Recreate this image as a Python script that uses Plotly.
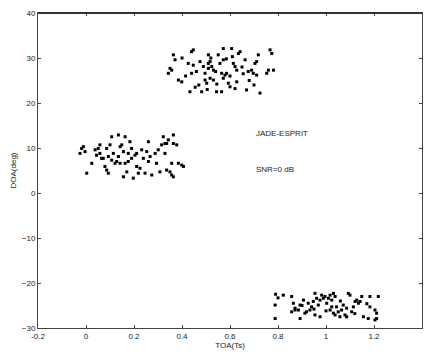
import plotly.graph_objects as go

# Cluster 1 (top)
x1 = [0.364,0.371,0.350,0.343,0.357,0.385,0.399,0.433,0.440,0.447,0.426,0.447,0.440,0.475,0.482,
      0.489,0.496,0.496,0.503,0.510,0.510,0.517,0.524,0.510,0.531,0.517,0.531,0.544,0.551,0.558,
      0.565,0.572,0.572,0.572,0.565,0.579,0.586,0.593,0.600,0.607,0.614,0.621,0.628,0.635,0.642,
      0.628,0.621,0.663,0.669,0.676,0.690,0.697,0.704,0.711,0.718,0.711,0.725,0.760,0.767,0.774,
      0.781,0.753,0.400,0.415,0.460,0.470,0.520,0.540,0.585,0.600,0.650,0.680,0.455,0.505,0.545,
      0.610,0.655,0.700]
y1 = [30.7,29.6,27.7,26.6,27.3,25.1,24.7,22.5,31.4,31.8,28.8,28.4,26.6,29.2,22.5,
      28.1,26.6,25.1,24.4,30.7,28.8,29.2,28.1,27.7,27.3,25.5,25.1,22.5,30.7,28.8,
      26.6,32.1,29.6,25.5,22.5,26.2,26.6,24.4,23.6,32.1,28.8,28.1,27.3,31.0,31.4,
      24.7,23.2,29.6,22.9,27.0,27.3,26.6,28.8,29.2,30.7,26.2,22.2,27.3,31.8,31.0,
      27.3,26.6,30.0,26.0,27.0,24.0,30.0,27.0,29.8,26.0,28.0,25.0,23.5,23.0,24.2,
      30.3,26.5,24.0]

# Cluster 2 (left)
x2 = [-0.025,-0.018,-0.011,-0.004,0.003,0.024,0.038,0.044,0.051,0.058,0.058,0.065,0.072,0.079,0.086,
      0.086,0.093,0.093,0.100,0.107,0.107,0.114,0.121,0.128,0.135,0.135,0.142,0.149,0.142,0.156,
      0.156,0.163,0.163,0.170,0.176,0.176,0.183,0.190,0.190,0.197,0.204,0.211,0.211,0.218,0.225,
      0.232,0.239,0.246,0.253,0.260,0.260,0.267,0.274,0.288,0.294,0.301,0.308,0.315,0.322,0.329,
      0.329,0.336,0.336,0.343,0.350,0.357,0.364,0.364,0.378,0.385,0.357,0.364,0.399,0.406]
y2 = [8.8,9.9,10.3,9.2,4.4,6.6,9.6,8.4,9.9,8.8,10.7,7.7,7.7,5.9,5.1,
      9.9,4.4,8.1,10.7,7.3,12.5,8.8,6.6,7.0,8.1,12.9,10.3,10.7,6.6,9.2,
      3.6,12.5,6.6,4.7,8.8,7.0,11.4,9.9,7.7,3.3,8.4,8.8,5.9,4.4,5.5,
      9.6,7.7,4.4,9.2,11.4,7.0,8.1,4.0,8.8,6.6,9.6,4.7,10.7,12.5,8.8,
      11.0,11.0,5.1,11.8,4.7,6.6,12.9,11.0,10.7,6.6,4.0,3.6,6.2,5.9]

# Cluster 3 (bottom right)
x3 = [0.822,0.857,0.864,0.871,0.857,0.885,0.892,0.906,0.919,0.912,0.926,0.933,0.940,0.947,0.954,
      0.961,0.968,0.975,0.982,0.989,0.996,1.003,1.010,1.017,1.024,1.031,1.038,1.017,1.024,1.031,
      1.044,1.051,1.058,1.065,1.072,1.079,1.086,1.093,1.100,1.107,1.114,1.121,1.128,1.135,1.142,
      1.149,1.156,1.183,1.183,1.204,1.211,1.218,1.176,1.204,1.211,0.788,0.788,0.790,0.800,0.871,
      0.892,0.954,1.086,1.038,0.975,0.900,0.950,1.000,1.060,1.120,1.170]
y3 = [-22.7,-23.0,-24.5,-25.6,-26.4,-26.0,-24.9,-23.8,-26.4,-26.7,-24.5,-26.0,-25.3,-24.1,-22.3,
      -23.4,-24.9,-23.8,-22.7,-23.4,-23.0,-24.5,-23.4,-22.7,-23.8,-22.3,-23.0,-26.0,-25.3,-26.7,
      -25.3,-26.4,-27.5,-26.0,-24.9,-27.1,-25.6,-22.3,-22.7,-26.4,-25.3,-24.1,-23.8,-24.5,-24.1,
      -23.0,-27.5,-23.0,-25.3,-26.0,-26.7,-23.0,-27.9,-28.2,-27.9,-24.9,-27.9,-22.5,-23.3,-26.0,
      -27.9,-27.1,-27.5,-27.1,-27.5,-25.0,-25.8,-26.2,-24.0,-26.8,-24.6]

x_ticks = [-0.2, 0, 0.2, 0.4, 0.6, 0.8, 1, 1.2, 1.4]
x_labels = ["-0.2", "0", "0.2", "0.4", "0.6", "0.8", "1", "1.2", "1.4"]
y_ticks = [-30, -20, -10, 0, 10, 20, 30, 40]

fig = go.Figure()
for xs, ys in [(x1, y1), (x2, y2), (x3, y3)]:
    fig.add_trace(go.Scatter(x=xs, y=ys, mode="markers",
                             marker=dict(symbol="square", size=3, color="black"),
                             showlegend=False, hoverinfo="skip"))

font = dict(family="Liberation Sans, Arial, sans-serif", size=8, color="#222")
fig.add_annotation(x=0.70, y=13.3, text="JADE-ESPRIT", showarrow=False, xanchor="left",
                   yanchor="middle", font=font)
fig.add_annotation(x=0.70, y=5.3, text="SNR=0 dB", showarrow=False, xanchor="left",
                   yanchor="middle", font=font)

# heavier top border as in the reference
fig.add_shape(type="line", xref="paper", yref="paper", x0=0, x1=1, y0=1, y1=1,
              line=dict(color="#333", width=2))

axis_common = dict(showline=True, mirror="ticks", linecolor="#444", linewidth=1,
                   ticks="inside", ticklen=3, tickcolor="#444", showgrid=False,
                   zeroline=False, tickfont=font)
fig.update_xaxes(range=[-0.2, 1.4], tickvals=x_ticks, ticktext=x_labels,
                 title=dict(text="TOA(Ts)", font=font, standoff=2), **axis_common)
fig.update_yaxes(range=[-30, 40], tickvals=y_ticks,
                 title=dict(text="DOA(deg)", font=font, standoff=4), **axis_common)

fig.update_layout(width=425, height=354, margin=dict(l=38, r=3, t=13, b=26),
                  paper_bgcolor="white", plot_bgcolor="white", font=font)
fig.write_html("out.html")
